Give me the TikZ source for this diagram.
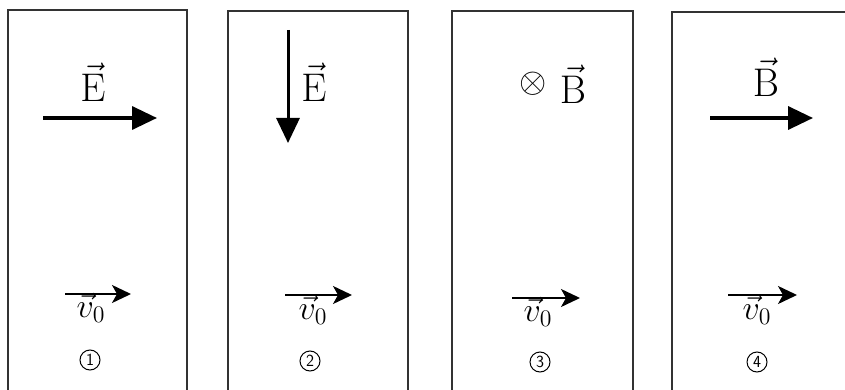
\documentclass[tikz,border=0pt]{standalone}
\usepackage{fix-cm}
\usepackage{amsmath,amssymb}
\usetikzlibrary{positioning,arrows.meta}
\tikzset{
  frame/.style={draw=black!80,line width=1.5pt},
  field/.style={-{Triangle[length=25pt,width=23pt]},line width=3.5pt},
  vel/.style={-{Stealth[length=19pt,width=18pt,inset=5pt]},line width=1.8pt},
  big/.style={font=\fontsize{40}{44}\selectfont,inner sep=0pt},
  vlbl/.style={font=\fontsize{20}{24}\selectfont,inner sep=0pt},
  num/.style={circle,draw,line width=1pt,minimum size=20pt,inner sep=0pt,
              font=\sffamily\fontsize{17}{17}\selectfont},
}
\newcommand{\velo}{\scalebox{1.7}{$\vec{v}_0$}}
\begin{document}
\begin{tikzpicture}[x=1pt,y=-1pt]
  \useasboundingbox (0,0) rectangle (845,390);
  % the four regions
  \draw[frame] (8,390) |- (187,10) -- (187,390);
  \draw[frame] (228,390) |- (408,11) -- (408,390);
  \draw[frame] (452,390) |- (633,11) -- (633,390);
  \draw[frame] (672,390) |- (845,12);

  % panel 1
  \node[big,anchor=base] (e1) at (93,102) {$\vec{\mathrm{E}}$};
  \coordinate (e1s) at (43,118); \coordinate (e1e) at (157,118);
  \draw[field] (e1s) -- (e1e);
  \coordinate (v1s) at (65,294); \coordinate (v1e) at (131,294);
  \draw[vel] (v1s) -- (v1e);
  \node[vlbl,anchor=base] (v1) at (91,317) {\velo};
  \node[num] (n1) at (90,360) {1};

  % panel 2
  \coordinate (e2s) at (288,30); \coordinate (e2e) at (288,143);
  \draw[field,line width=3pt] (e2s) -- (e2e);
  \node[big,anchor=base] (e2) at (314,102) {$\vec{\mathrm{E}}$};
  \coordinate (v2s) at (285,295); \coordinate (v2e) at (352,295);
  \draw[vel] (v2s) -- (v2e);
  \node[vlbl,anchor=base] (v2) at (313,319) {\velo};
  \node[num] (n2) at (310,361) {2};

  % panel 3
  \node[font=\fontsize{20}{20}\selectfont,inner sep=0pt] (x3) at (533,84) {\scalebox{1.75}{$\otimes$}};
  \node[big,anchor=base] (b3) at (573,104) {$\vec{\mathrm{B}}$};
  \coordinate (v3s) at (512,298); \coordinate (v3e) at (580,298);
  \draw[vel] (v3s) -- (v3e);
  \node[vlbl,anchor=base] (v3) at (538,321) {\velo};
  \node[num] (n3) at (540,362) {3};

  % panel 4
  \node[big,anchor=base] (b4) at (766,97) {$\vec{\mathrm{B}}$};
  \coordinate (b4s) at (710,118); \coordinate (b4e) at (813,118);
  \draw[field] (b4s) -- (b4e);
  \coordinate (v4s) at (728,295); \coordinate (v4e) at (797,295);
  \draw[vel] (v4s) -- (v4e);
  \node[vlbl,anchor=base] (v4) at (757,319) {\velo};
  \node[num] (n4) at (757,362) {4};
\end{tikzpicture}
\end{document}
